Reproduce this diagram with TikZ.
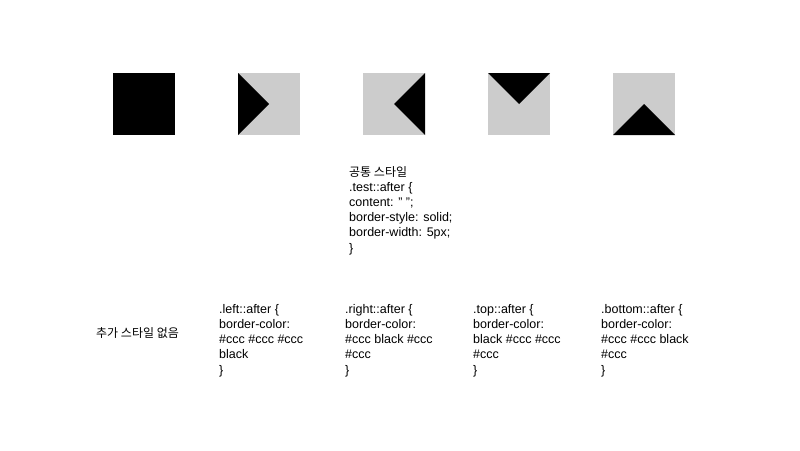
\documentclass[tikz,border=0pt]{standalone}
\usepackage{fontspec}
\setmainfont{Liberation Sans}
\newfontfamily\kr[Scale=0.96]{Noto Sans CJK KR}
\usetikzlibrary{positioning}
\definecolor{ccc}{HTML}{CCCCCC}

\begin{document}
\begin{tikzpicture}[x=1pt,y=-1pt,node distance=63pt,
    box/.style={minimum size=62pt,inner sep=0pt,outer sep=0pt},
    code/.style={anchor=north west,inner sep=0pt,align=left,font=\fontsize{12.5}{15.2}\selectfont}]
      \useasboundingbox (0,0) rectangle (800,450);
      \node[box,fill=black] (plain) at (144,104) {};
      \node[box,fill=ccc,right=of plain] (left) {};
      \node[box,fill=ccc,right=of left] (right) {};
      \node[box,fill=ccc,right=of right] (top) {};
      \node[box,fill=ccc,right=of top] (bottom) {};
      \fill (left.north west)--(left.center)--(left.south west)--cycle;
      \fill (right.north east)--(right.center)--(right.south east)--cycle;
      \fill (top.north west)--(top.center)--(top.north east)--cycle;
      \fill (bottom.south west)--(bottom.center)--(bottom.south east)--cycle;
      \node[code] (common) at (349,166) {{\kr 공통 스타일}\\.test::after \{\\content: " ";\\border-style: solid;\\border-width: 5px;\\\}};
      \node[code,anchor=west] (none) at (96,333) {\kr 추가 스타일 없음};
      \node[code] (leftcss) at (219,304) {.left::after \{\\border-color:\\\#ccc \#ccc \#ccc\\black\\\}};
      \node[code] (rightcss) at (345,304) {.right::after \{\\border-color:\\\#ccc black \#ccc\\\#ccc\\\}};
      \node[code] (topcss) at (473,304) {.top::after \{\\border-color:\\black \#ccc \#ccc\\\#ccc\\\}};
      \node[code] (bottomcss) at (601,304) {.bottom::after \{\\border-color:\\\#ccc \#ccc black\\\#ccc\\\}};
    \end{tikzpicture}
\end{document}
